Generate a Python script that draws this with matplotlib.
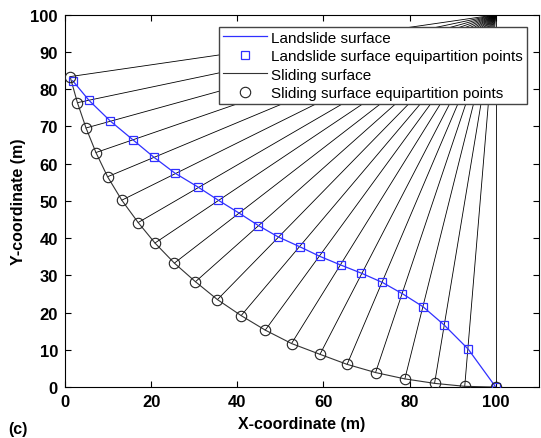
import matplotlib
matplotlib.use("Agg")
import matplotlib.pyplot as plt
import numpy as np

plt.rcParams['font.family'] = ['Liberation Sans', 'DejaVu Sans']

# sliding surface equipartition points (circular arc, centre at (100, 100))
slide_x = [1.2, 2.9, 4.9, 7.2, 9.9, 13.2, 17.0, 20.9, 25.4, 30.3, 35.4,
           40.9, 46.5, 52.6, 59.2, 65.5, 72.1, 78.9, 85.8, 92.8, 100.0]
slide_y = [83.4, 76.4, 69.6, 63.0, 56.5, 50.2, 44.2, 38.7, 33.3, 28.3, 23.5,
           19.2, 15.3, 11.7, 8.8, 6.1, 3.9, 2.2, 1.0, 0.2, 0.0]

# landslide surface equipartition points
land_x = [1.8, 5.6, 10.5, 15.7, 20.7, 25.5, 30.8, 35.6, 40.2, 44.9, 49.4,
          54.5, 59.2, 64.0, 68.8, 73.7, 78.3, 83.1, 88.0, 93.6, 100.0]
land_y = [82.3, 77.0, 71.5, 66.5, 61.7, 57.5, 53.8, 50.2, 46.9, 43.4, 40.4,
          37.7, 35.1, 32.8, 30.6, 28.1, 25.1, 21.6, 16.7, 10.2, 0.0]

centre = (100.0, 100.0)

fig = plt.figure(figsize=(5.41, 4.39), dpi=100)
ax = fig.add_axes([0.120, 0.116, 0.876, 0.848])

# radial lines from sliding surface points to the arc centre
for sx, sy in zip(slide_x, slide_y):
    ax.plot([sx, centre[0]], [sy, centre[1]], color='black', lw=0.6, zorder=1)

ax.plot(land_x, land_y, color='#3030ff', lw=0.9, zorder=3, label='Landslide surface')
ax.plot(land_x, land_y, ls='none', marker='s', ms=6, mfc='none', mec='#3030ff',
        mew=0.9, zorder=4, label='Landslide surface equipartition points')
ax.plot(slide_x, slide_y, color='#333333', lw=0.8, zorder=2, label='Sliding surface')
ax.plot(slide_x, slide_y, ls='none', marker='o', ms=7.5, mfc='none', mec='#222222',
        mew=0.8, zorder=4, label='Sliding surface equipartition points')

ax.set_xlim(0, 110)
ax.set_ylim(0, 100)
ax.set_xticks([0, 20, 40, 60, 80, 100])
ax.set_yticks(np.arange(0, 101, 10))
ax.tick_params(direction='in', top=True, right=True, labelsize=12, length=4, pad=5)
for lab in ax.get_xticklabels() + ax.get_yticklabels():
    lab.set_fontweight('bold')
ax.set_xlabel('X-coordinate (m)', fontsize=11.5, fontweight='bold', labelpad=5)
ax.set_ylabel('Y-coordinate (m)', fontsize=11.5, fontweight='bold', labelpad=3)

leg = ax.legend(loc='upper right', bbox_to_anchor=(0.975, 0.968), fontsize=11,
                fancybox=False, framealpha=1, edgecolor='#444444',
                borderpad=0.25, labelspacing=0.3, handlelength=2.9,
                handletextpad=0.3, borderaxespad=0)
leg.set_zorder(10)

fig.text(0.015, 0.012, '(c)', fontsize=11.5, fontweight='bold')

fig.savefig('out.png', dpi=100)
